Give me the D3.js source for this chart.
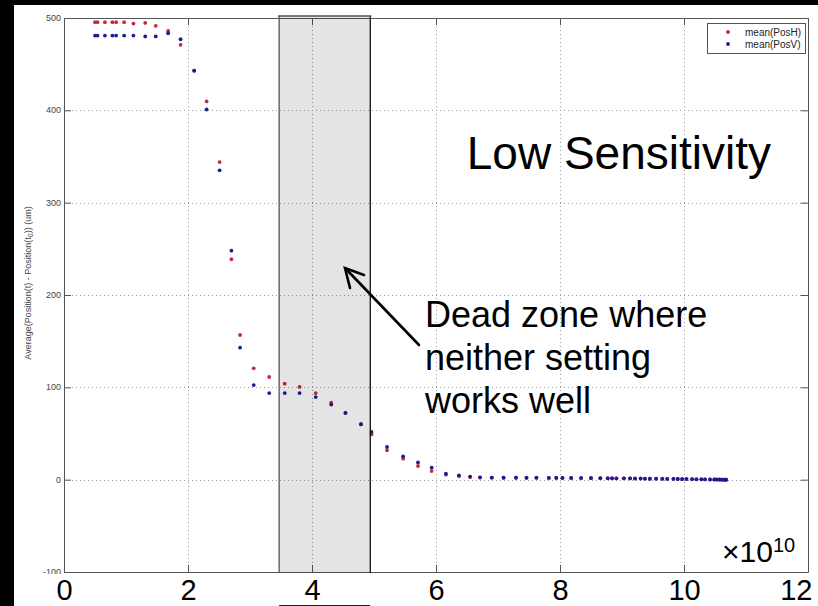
<!DOCTYPE html>
<html>
<head>
<meta charset="utf-8">
<script src="https://cdn.jsdelivr.net/npm/d3@7"></script>
<style>
  body { margin: 0; background: #fff; }
  svg { display: block; font-family: Arial, "Liberation Sans", sans-serif; }
</style>
</head>
<body>
<svg id="chart"></svg>
<script>
// time values, in units of 1e10
const xVals = [0.50, 0.54, 0.66, 0.78, 0.84, 0.97, 1.12, 1.31, 1.48, 1.68, 1.88, 2.10, 2.30, 2.51, 2.70, 2.84,
  3.06, 3.31, 3.56, 3.80, 4.06, 4.31, 4.54, 4.79, 4.96, 5.21, 5.47, 5.71, 5.93, 6.16, 6.37, 6.55, 6.71,
  6.90, 7.09, 7.29, 7.46, 7.62, 7.82, 7.94, 8.04, 8.18, 8.34, 8.50, 8.65, 8.77, 8.84, 8.91, 9.03, 9.13,
  9.21, 9.30, 9.37, 9.45, 9.55, 9.65, 9.73, 9.83, 9.90, 9.97, 10.04, 10.13, 10.20, 10.28, 10.34, 10.42,
  10.49, 10.53, 10.57, 10.60, 10.63, 10.66, 10.68];

// mean(PosH) - red
const posH = [495.5, 495.5, 495.5, 495.5, 495.5, 495.5, 494, 494.7, 491.5, 486, 471, 443, 409.6, 344, 238.7, 156.7,
  120.6, 111.2, 104, 100.4, 93.8, 83.4, 72.3, 60, 49, 31.8, 22.7, 14.8, 9.3, 5.4, 3.9, 2.8, 2.2,
  2.3, 2.2, 2.2, 2.1, 2.2, 2.0, 2.1, 2.0, 1.9, 1.8, 1.8, 1.7, 1.6, 1.6, 1.5, 1.5, 1.4,
  1.3, 1.3, 1.2, 1.1, 1.1, 1.0, 0.9, 0.9, 0.8, 0.7, 0.7, 0.6, 0.5, 0.5, 0.4, 0.3,
  0.3, 0.2, 0.2, 0.1, 0.1, 0.0, 0.0];

// mean(PosV) - blue
const posV = [481, 481, 481, 481, 481, 481, 481, 480, 480, 483.5, 477, 443, 400.9, 335, 248, 143,
  102.5, 93.8, 93.8, 93.8, 89.5, 81.3, 72.3, 60, 51.6, 35.4, 25.3, 18.7, 13, 6.5, 4.5, 3.3, 2.5,
  2.2, 2.1, 2.1, 2.0, 2.0, 1.9, 1.9, 1.8, 1.8, 1.7, 1.6, 1.6, 1.5, 1.5, 1.4, 1.4, 1.3,
  1.2, 1.2, 1.1, 1.0, 1.0, 0.9, 0.8, 0.8, 0.7, 0.6, 0.6, 0.5, 0.4, 0.4, 0.3, 0.2,
  0.2, 0.1, 0.1, 0.0, 0.0, -0.1, -0.1];

const xTicks = [0, 2, 4, 6, 8, 10, 12];
const yTicks = [-100, 0, 100, 200, 300, 400, 500];
const seriesNames = ["mean(PosH)", "mean(PosV)"];
const deadZone = [3.47, 4.94];

const W = 818, H = 606;
const svg = d3.select("#chart").attr("width", W).attr("height", H);

const x = d3.scaleLinear().domain([0, 12]).range([64, 808]);
const y = d3.scaleLinear().domain([-100, 500]).range([572, 18]);

const red = "#c8283c", blue = "#1c1c96";

// black bands (slide frame)
svg.append("rect").attr("x", 0).attr("y", 0).attr("width", W).attr("height", 5).attr("fill", "#000");
svg.append("rect").attr("x", 0).attr("y", 0).attr("width", 14).attr("height", H).attr("fill", "#000");

// grid
const grid = svg.append("g").attr("stroke", "#999").attr("stroke-dasharray", "1,3").attr("stroke-width", 1);
grid.selectAll(".gx").data(xTicks.slice(1, -1)).enter().append("line")
  .attr("x1", d => x(d) + 0.5).attr("x2", d => x(d) + 0.5)
  .attr("y1", y(500)).attr("y2", y(-100));
grid.selectAll(".gy").data(yTicks.slice(1, -1)).enter().append("line")
  .attr("y1", d => Math.round(y(d)) + 0.5).attr("y2", d => Math.round(y(d)) + 0.5)
  .attr("x1", x(0)).attr("x2", x(12));

// data points
const pts = xVals.map((v, i) => ({ x: v, h: posH[i], v: posV[i] }));
svg.append("g").selectAll("circle").data(pts).enter().append("circle")
  .attr("cx", d => x(d.x)).attr("cy", d => y(d.h)).attr("r", 1.9).attr("fill", red);
svg.append("g").selectAll("circle").data(pts).enter().append("circle")
  .attr("cx", d => x(d.x)).attr("cy", d => y(d.v)).attr("r", 1.9).attr("fill", blue);

// axes box with inward ticks
const axisCol = "#555";
function styleAxis(g) {
  g.selectAll("path").attr("stroke", axisCol);
  g.selectAll("line").attr("stroke", axisCol);
  g.selectAll("text").remove();
}
svg.append("g").attr("transform", `translate(0,${y(-100)})`)
  .call(d3.axisBottom(x).tickValues(xTicks).tickSizeInner(-7).tickSizeOuter(0)).call(styleAxis);
svg.append("g").attr("transform", `translate(0,${y(500)})`)
  .call(d3.axisTop(x).tickValues(xTicks).tickSizeInner(-7).tickSizeOuter(0)).call(styleAxis);
svg.append("g").attr("transform", `translate(${x(0)},0)`)
  .call(d3.axisLeft(y).tickValues(yTicks).tickSizeInner(-7).tickSizeOuter(0)).call(styleAxis);
svg.append("g").attr("transform", `translate(${x(12)},0)`)
  .call(d3.axisRight(y).tickValues(yTicks).tickSizeInner(-7).tickSizeOuter(0)).call(styleAxis);

// y tick labels
svg.append("g").selectAll("text").data(yTicks).enter().append("text")
  .attr("x", 61).attr("y", d => y(d)).attr("dy", "0.35em")
  .attr("text-anchor", "end").attr("font-size", 9).attr("fill", "#444")
  .text(d => d);

// y axis label
const yl = svg.append("text")
  .attr("transform", "translate(31,283) rotate(-90)")
  .attr("text-anchor", "middle").attr("font-size", 9).attr("fill", "#444");
yl.append("tspan").text("Average(Position(t) - Position(t");
yl.append("tspan").attr("font-size", 7).attr("dy", 2).text("0");
yl.append("tspan").attr("dy", -2).text(")) (um)");

// dead zone shading
svg.append("rect")
  .attr("x", x(deadZone[0])).attr("y", y(500) - 2)
  .attr("width", x(deadZone[1]) - x(deadZone[0])).attr("height", y(-100) - y(500) + 3)
  .attr("fill", "#000").attr("fill-opacity", 0.105);
svg.append("line").attr("x1", x(deadZone[0])).attr("x2", x(deadZone[0]))
  .attr("y1", y(500) - 2).attr("y2", y(-100) + 1).attr("stroke", "#555").attr("stroke-width", 1.3);
svg.append("line").attr("x1", x(deadZone[1])).attr("x2", x(deadZone[1]))
  .attr("y1", y(500) - 2).attr("y2", y(-100) + 1).attr("stroke", "#111").attr("stroke-width", 1.3);
svg.append("line").attr("x1", x(deadZone[0]) - 1).attr("x2", x(deadZone[1]) + 1)
  .attr("y1", y(500) - 2).attr("y2", y(500) - 2).attr("stroke", "#555").attr("stroke-width", 1.3);

// white label strip below the plot
svg.append("rect").attr("x", 14).attr("y", 574).attr("width", W - 14).attr("height", H - 574).attr("fill", "#fff");
svg.append("line").attr("x1", x(deadZone[0])).attr("x2", x(deadZone[1]))
  .attr("y1", 605.5).attr("y2", 605.5).attr("stroke", "#222").attr("stroke-width", 1);

// big x tick labels
const xl = svg.append("g").attr("transform", `translate(0,${y(-100)})`)
  .call(d3.axisBottom(x).tickValues(xTicks).tickSize(0).tickPadding(7).tickFormat(d3.format("d")));
xl.select(".domain").remove();
xl.selectAll("text").attr("font-size", 29).attr("fill", "#000")
  .attr("font-family", "Arial, 'Liberation Sans', sans-serif");
// last label is pulled inside the slide edge
xl.selectAll("text").filter(d => d === 12).attr("text-anchor", "end").attr("dx", 4);

// exponent label
const ex = svg.append("text").attr("x", 722).attr("y", 562).attr("font-size", 30).attr("fill", "#000");
ex.append("tspan").text("×10");
ex.append("tspan").attr("font-size", 20).attr("dy", -10).text("10");

// annotations
svg.append("text").attr("x", 771).attr("y", 169).attr("text-anchor", "end")
  .attr("font-size", 46).attr("fill", "#000").text("Low Sensitivity");

const deadLines = ["Dead zone where", "neither setting", "works well"];
svg.append("g").selectAll("text").data(deadLines).enter().append("text")
  .attr("x", 425).attr("y", (d, i) => 327 + i * 43)
  .attr("font-size", 36).attr("fill", "#000").text(d => d);

// arrow
const arrow = svg.append("g").attr("stroke", "#000").attr("stroke-width", 2.6)
  .attr("fill", "none").attr("stroke-linecap", "round");
arrow.append("line").attr("x1", 419).attr("y1", 345).attr("x2", 346).attr("y2", 269);
arrow.append("path").attr("d", "M364,275 L345,268 L350,288");

// legend
const lg = svg.append("g");
lg.append("rect").attr("x", 707.5).attr("y", 23.5).attr("width", 98).attr("height", 30)
  .attr("fill", "#fff").attr("stroke", "#555");
lg.selectAll("circle").data(seriesNames).enter().append("circle")
  .attr("cx", 728).attr("cy", (d, i) => 32 + i * 12).attr("r", 1.9)
  .attr("fill", (d, i) => i === 0 ? red : blue);
lg.selectAll("text").data(seriesNames).enter().append("text")
  .attr("x", 745).attr("y", (d, i) => 32 + i * 12).attr("dy", "0.35em")
  .attr("font-size", 10).attr("fill", "#222").text(d => d);
</script>
</body>
</html>
